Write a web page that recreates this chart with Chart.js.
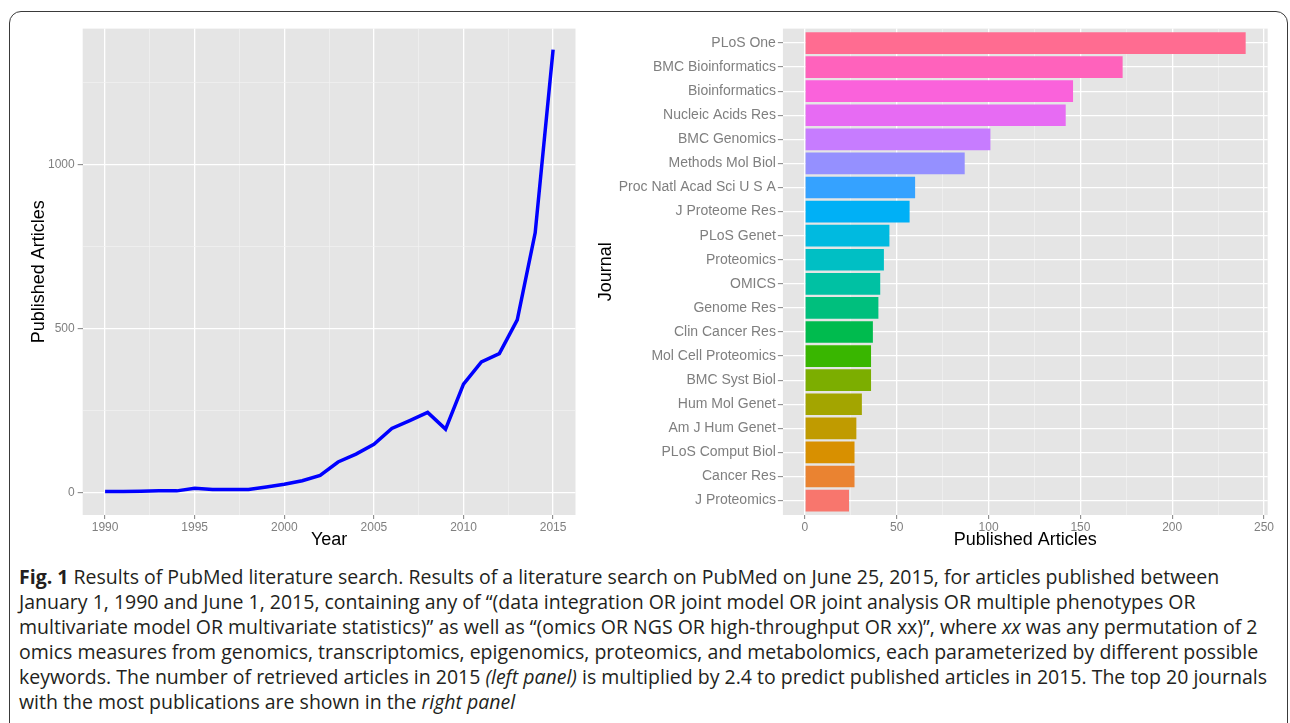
<!DOCTYPE html>
<html>
<head>
<meta charset="utf-8">
<script src="https://cdn.jsdelivr.net/npm/chart.js@4.4.1/dist/chart.umd.min.js"></script>
<style>
  body { margin: 0; background: #fff; width: 1290px; height: 723px; overflow: hidden; position: relative; }
  #frame { position: absolute; left: 9px; top: 11px; width: 1277px; height: 800px; border: 1.5px solid #3a3a3a; border-radius: 12px; }
  #left { position: absolute; left: 0; top: 0; }
  #right { position: absolute; left: 590px; top: 0; }
  #caption { position: absolute; left: 19px; top: 564px; font-family: "Open Sans", sans-serif; font-size: 19.5px; line-height: 25px; color: #231f20; white-space: nowrap; }
</style>
</head>
<body>
<div id="frame"></div>
<canvas id="left" width="590" height="560"></canvas>
<canvas id="right" width="700" height="560"></canvas>
<div id="caption">
<b>Fig. 1</b> Results of PubMed literature search. Results of a literature search on PubMed on June 25, 2015, for articles published between<br>
January 1, 1990 and June 1, 2015, containing any of “(data integration OR joint model OR joint analysis OR multiple phenotypes OR<br>
multivariate model OR multivariate statistics)” as well as “(omics OR NGS OR high-throughput OR xx)”, where <i>xx</i> was any permutation of 2<br>
omics measures from genomics, transcriptomics, epigenomics, proteomics, and metabolomics, each parameterized by different possible<br>
keywords. The number of retrieved articles in 2015 <i>(left panel)</i> is multiplied by 2.4 to predict published articles in 2015. The top 20 journals<br>
with the most publications are shown in the <i>right panel</i>
</div>
<script>
// Left panel: articles per year
const years = [1990, 1991, 1992, 1993, 1994, 1995, 1996, 1997, 1998, 1999, 2000, 2001, 2002,
               2003, 2004, 2005, 2006, 2007, 2008, 2009, 2010, 2011, 2012, 2013, 2014, 2015];
const articles = [4, 4, 5, 6, 6, 14, 10, 10, 10, 18, 26, 37, 53,
                  94, 118, 148, 196, 220, 245, 194, 331, 399, 424, 527, 792, 1350];
const yearTicks = [1990, 1992.5, 1995, 1997.5, 2000, 2002.5, 2005, 2007.5, 2010, 2012.5, 2015];
const articleTicks = [0, 250, 500, 750, 1000, 1250];

// Right panel: top 20 journals, top to bottom
const journals = ['PLoS One', 'BMC Bioinformatics', 'Bioinformatics', 'Nucleic Acids Res', 'BMC Genomics',
                  'Methods Mol Biol', 'Proc Natl Acad Sci U S A', 'J Proteome Res', 'PLoS Genet', 'Proteomics',
                  'OMICS', 'Genome Res', 'Clin Cancer Res', 'Mol Cell Proteomics', 'BMC Syst Biol',
                  'Hum Mol Genet', 'Am J Hum Genet', 'PLoS Comput Biol', 'Cancer Res', 'J Proteomics'];
const counts = [240, 173, 146, 142, 101, 87, 60, 57, 46, 43, 41, 40, 37, 36, 36, 31, 28, 27, 27, 24];
const journalColors = ['#FF6C91', '#FF62BC', '#FA62DB', '#E76BF3', '#C77CFF', '#9590FF', '#35A2FF', '#00B0F6',
                       '#00BAE0', '#00BFC4', '#00C1A3', '#00BF7D', '#00BB4E', '#39B600', '#7CAE00', '#A3A500',
                       '#C09B00', '#D89000', '#EA8331', '#F8766D'];
const countTicks = [0, 25, 50, 75, 100, 125, 150, 175, 200, 225, 250];

const GREY = '#7f7f7f';
const TICK_FONT = { family: 'Liberation Sans, Arial, sans-serif', size: 12 };
const TITLE_FONT = { family: 'Liberation Sans, Arial, sans-serif', size: 18 };

// grey panel behind the grid
const panelBg = {
    id: 'panelBg',
    beforeDraw(chart) {
        const a = chart.chartArea;
        chart.ctx.save();
        chart.ctx.fillStyle = '#e5e5e5';
        chart.ctx.fillRect(a.left, a.top, a.right - a.left, a.bottom - a.top);
        chart.ctx.restore();
    }
};

const isMajor = (v, step) => Math.abs(v / step - Math.round(v / step)) < 1e-6;

function gridFor(step, tickLength) {
    return {
        drawTicks: true,
        tickLength: tickLength,
        color: ctx => isMajor(ctx.tick.value, step) ? '#ffffff' : '#f2f2f2',
        lineWidth: ctx => isMajor(ctx.tick.value, step) ? 1.3 : 0.7,
        tickColor: ctx => isMajor(ctx.tick.value, step) ? GREY : 'rgba(0,0,0,0)',
        tickWidth: 1
    };
}

Chart.defaults.animation = false;

// Chart 1: articles over time
new Chart(document.getElementById('left'), {
    type: 'line',
    data: {
        datasets: [{
            data: years.map((y, i) => ({ x: y, y: articles[i] })),
            borderColor: '#0000ff',
            borderWidth: 3.5,
            pointRadius: 0,
            tension: 0,
            fill: false
        }]
    },
    options: {
        responsive: false,
        layout: { padding: { top: 28.6, right: 14.5, left: 0, bottom: 0 } },
        plugins: { legend: { display: false }, tooltip: { enabled: false } },
        scales: {
            x: {
                type: 'linear',
                min: 1988.75,
                max: 2016.25,
                afterBuildTicks: s => { s.ticks = yearTicks.map(v => ({ value: v })); },
                afterFit: s => { s.height = 45; },
                grid: gridFor(5, 4),
                border: { display: false },
                ticks: {
                    font: TICK_FONT, color: GREY, padding: 1, maxRotation: 0, autoSkip: false,
                    callback: v => isMajor(v, 5) ? String(v) : ''
                },
                title: { display: true, text: 'Year', font: TITLE_FONT, color: '#000', padding: { top: 0, bottom: 9 } }
            },
            y: {
                type: 'linear',
                min: -67.5,
                max: 1414,
                afterBuildTicks: s => { s.ticks = articleTicks.map(v => ({ value: v })); },
                afterFit: s => { s.width = 82.7; },
                grid: gridFor(500, 5),
                border: { display: false },
                ticks: {
                    font: TICK_FONT, color: GREY, padding: 3, autoSkip: false,
                    callback: v => isMajor(v, 500) ? String(v) : ''
                },
                title: { display: true, text: 'Published Articles', font: TITLE_FONT, color: '#000', padding: { top: 28, bottom: 0 } }
            }
        }
    },
    plugins: [panelBg]
});

// Chart 2: journals
new Chart(document.getElementById('right'), {
    type: 'bar',
    data: {
        datasets: [{
            data: journals.map((j, i) => ({ x: counts[i], y: i })),
            backgroundColor: journalColors,
            borderWidth: 0,
            barPercentage: 0.9,
            categoryPercentage: 1
        }]
    },
    options: {
        responsive: false,
        indexAxis: 'y',
        layout: { padding: { top: 28.6, right: 22.3, left: 0, bottom: 0 } },
        plugins: { legend: { display: false }, tooltip: { enabled: false } },
        scales: {
            x: {
                type: 'linear',
                min: -12,
                max: 252,
                afterBuildTicks: s => { s.ticks = countTicks.map(v => ({ value: v })); },
                afterFit: s => { s.height = 45; },
                grid: gridFor(50, 4),
                border: { display: false },
                ticks: {
                    font: TICK_FONT, color: GREY, padding: 1, maxRotation: 0, autoSkip: false,
                    callback: v => isMajor(v, 50) ? String(v) : ''
                },
                title: { display: true, text: 'Published Articles', font: TITLE_FONT, color: '#000', padding: { top: 0, bottom: 9 } }
            },
            y: {
                type: 'linear',
                reverse: true,
                offset: false,
                min: -0.6,
                max: journals.length - 0.4,
                afterBuildTicks: s => { s.ticks = journals.map((j, i) => ({ value: i })); },
                afterFit: s => { s.width = 192.9; },
                grid: {
                    offset: false, drawTicks: true, tickLength: 5, color: '#ffffff', lineWidth: 1.3,
                    tickColor: GREY, tickWidth: 1
                },
                border: { display: false },
                ticks: {
                    font: { family: 'Liberation Sans, Arial, sans-serif', size: 14 }, color: GREY, padding: 2, autoSkip: false,
                    callback: v => journals[v]
                },
                title: { display: true, text: 'Journal', font: TITLE_FONT, color: '#000', padding: { top: 4.8, bottom: 0 } }
            }
        }
    },
    plugins: [panelBg]
});
</script>
</body>
</html>
